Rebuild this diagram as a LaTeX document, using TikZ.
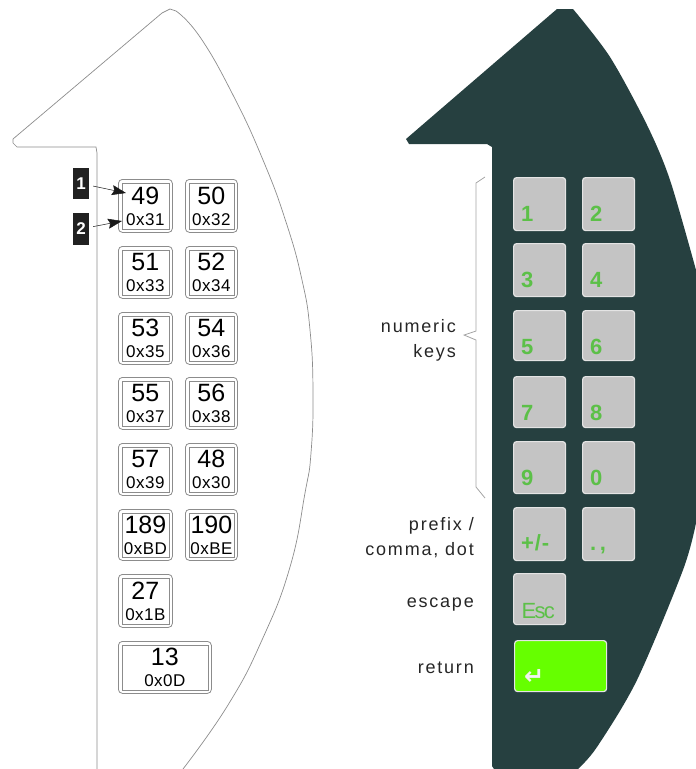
\documentclass[tikz,border=0pt]{standalone}
\usepackage{fontspec}
\usetikzlibrary{arrows.meta}
\setmainfont{Liberation Sans}
\newfontfamily\arrowfont{DejaVu Sans}
\definecolor{panelteal}{RGB}{38,64,64}
\definecolor{keygrey}{RGB}{196,196,196}
\definecolor{keyedge}{RGB}{228,228,228}
\definecolor{keygreen}{RGB}{92,192,72}
\definecolor{returngreen}{RGB}{102,255,0}
\definecolor{outlinegrey}{RGB}{140,140,140}
\tikzset{
  codebox/.style={draw=outlinegrey, line width=0.8pt, rounded corners=4pt, inner sep=0pt, anchor=north west},
  codetext/.style={draw=outlinegrey, line width=0.8pt, inner sep=0pt, align=center, text=black, font=\fontsize{17}{21}\selectfont\addfontfeature{LetterSpace=3}},
  greykey/.style={draw=keyedge, fill=keygrey, line width=1.2pt, rounded corners=3pt, inner sep=0pt, anchor=north west, minimum width=#1},
  greykey/.default=52pt,
  keyname/.style={anchor=base west, inner sep=0pt, text=keygreen, font=\fontsize{22}{22}\selectfont\bfseries},
  sidelabel/.style={anchor=east, inner sep=0pt, align=right, text=black!85, font=\fontsize{18}{25}\selectfont\addfontfeature{LetterSpace=10}},
  markbox/.style={fill=black!87, text=white, inner sep=0pt, minimum width=16pt, font=\fontsize{17}{17}\selectfont\bfseries},
  markline/.style={-{Stealth[length=14pt,width=10pt,inset=2pt]}, black!90, line width=0.5pt, shorten <=4pt}
}
\newcommand{\bignum}[1]{{\fontsize{25}{25}\selectfont\addfontfeature{LetterSpace=0}#1}}

\begin{document}
\begin{tikzpicture}[x=1pt, y=-1pt]
    \useasboundingbox (0,0) rectangle (696,769);

    % Left outline
    \draw[outlinegrey, line width=0.7pt] (97,769) -- (97,153) -- (96,147) -- (17,147) -- (13,143) -- (13,139)
        -- (162,13) -- (170,9) -- (176,11)
        -- plot[smooth, tension=0.8] coordinates {(176,11) (200,37) (233,95) (263,160) (286,222) (302,280) (310,330) (313,392) (311,453) (305,493) (290,567) (262,640) (228,705) (183,769)};

    % Code keys
    \foreach \nm/\xa/\ya/\wa/\ha/\hexa in {
        49/118/179/54/53/0x31, 50/185/179/52/53/0x32,
        51/118/246/54/52/0x33, 52/185/246/52/52/0x34,
        53/118/312/54/52/0x35, 54/185/312/52/52/0x36,
        55/118/377/54/52/0x37, 56/185/377/52/52/0x38,
        57/118/443/54/52/0x39, 48/185/443/52/52/0x30,
        189/118/509/54/51/0xBD, 190/185/509/52/51/0xBE,
        27/118/574/54/53/0x1B, 13/118/641/93/52/0x0D} {
        \node[codebox, minimum width=\wa pt, minimum height=\ha pt] (key\nm) at (\xa,\ya) {};
        \node[codetext, minimum width=\wa pt-7pt, minimum height=\ha pt-7pt] (code\nm) at (key\nm) {\raisebox{1pt}{\bignum{\nm}}\\[-1pt]\hexa};
    }

    % Callouts
    \node[markbox, minimum height=31pt] (mark1) at (81,183.5) {1};
    \node[markbox, minimum height=32pt] (mark2) at (81,229) {2};
    \coordinate (tip1) at (126,193);
    \coordinate (tip2) at (122,221);
    \draw[markline] (mark1) -- (tip1);
    \draw[markline] (mark2) -- (tip2);

    % Dark panel
    \fill[panelteal] (406,139) -- (409,144) -- (487,144) -- (492,147) -- (492,766) -- (494,769) -- (578,769)
        -- plot[smooth, tension=0.5] coordinates {(578,769) (597,747) (637,680) (683,570) (696,523)}
        -- (696,270)
        -- plot[smooth, tension=0.5] coordinates {(696,270) (670,180) (647,125) (610,57) (573,9)}
        -- (557,9) -- cycle;

    % Grey keys
    \foreach \lab/\xa/\ya/\ha/\nmb in {
        1/513/177/53/1, 2/582/177/53/2,
        3/513/243/53/3, 4/582/243/53/4,
        5/513/310/50/5, 6/582/310/50/6,
        7/513/376/51/7, 8/582/376/51/8,
        9/513/441/52/9, 0/582/441/52/0} {
        \node[greykey, minimum height=\ha pt] (num\lab) at (\xa,\ya) {};
        \node[keyname] (name\lab) at ([xshift=8pt, yshift=-44.5pt]num\lab.north west) {\nmb};
    }
    \node[greykey, minimum height=53pt] (sign) at (513,507) {};
    \node[keyname] (signname) at ([xshift=8pt, yshift=-43pt]sign.north west) {\addfontfeature{LetterSpace=4}+/-};
    \node[greykey, minimum height=53pt] (dots) at (582,507) {};
    \node[keyname] (dotsname) at ([xshift=8pt, yshift=-43pt]dots.north west) {.\,,};
    \node[greykey, minimum height=51pt] (esc) at (513,573) {};
    \node[keyname, font=\fontsize{22}{22}\selectfont\addfontfeature{LetterSpace=-8}] (escname) at ([xshift=8.5pt, yshift=-45pt]esc.north west) {Esc};
    \node[greykey=92pt, fill=returngreen, minimum height=51pt] (ret) at (514,640) {};
    \node[keyname, text=keyedge!50, font=\fontsize{24}{24}\selectfont\arrowfont\bfseries] (retname) at ([xshift=10pt, yshift=-44pt]ret.north west) {↵};

    % Brace and labels
    \draw[outlinegrey!80, line width=0.8pt] (485,177) -- (476,183) -- (476,331) -- (464,335) -- (476,340) -- (476,487) -- (485,498);
    \node[sidelabel] (numeric) at (456,340) {numeric\\keys};
    \node[sidelabel] (prefix) at (474,538) {prefix /\\comma, dot};
    \node[sidelabel] (escape) at (474,604.5) {escape};
    \node[sidelabel] (return) at (474,668) {return};
\end{tikzpicture}
\end{document}
